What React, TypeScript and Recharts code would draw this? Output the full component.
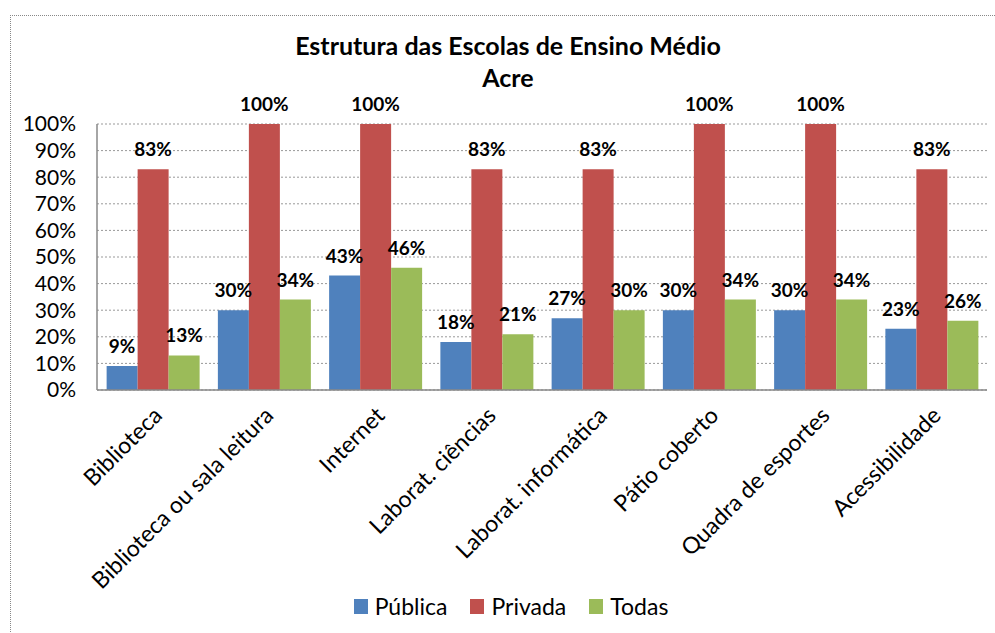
import React from 'react';
import { BarChart, Bar, XAxis, YAxis, CartesianGrid, Legend, LabelList } from 'recharts';

const categories = [
  'Biblioteca',
  'Biblioteca ou sala leitura',
  'Internet',
  'Laborat. ciências',
  'Laborat. informática',
  'Pátio coberto',
  'Quadra de esportes',
  'Acessibilidade',
];
const publica = [9, 30, 43, 18, 27, 30, 30, 23];
const privada = [83, 100, 100, 83, 83, 100, 100, 83];
const todas = [13, 34, 46, 21, 30, 34, 34, 26];
const yTicks = [0, 10, 20, 30, 40, 50, 60, 70, 80, 90, 100];

const series = [
  { key: 'publica', name: 'Pública', color: '#4F81BD' },
  { key: 'privada', name: 'Privada', color: '#C0504D' },
  { key: 'todas', name: 'Todas', color: '#9BBB59' },
];

const data = categories.map((c, i) => ({
  name: c,
  publica: publica[i],
  privada: privada[i],
  todas: todas[i],
}));

const FONT = 'Lato, "Open Sans", sans-serif';

const XTick = (props: any) => {
  const { x, y, payload } = props;
  return (
    <g transform={`translate(${x + 11},${y + 27})`}>
      <text transform="rotate(-45)" textAnchor="end" fontSize={23} fill="#000" fontFamily={FONT}>
        {payload.value}
      </text>
    </g>
  );
};

const LegendContent = () => (
  <div
    style={{
      display: 'flex',
      justifyContent: 'center',
      alignItems: 'center',
      fontFamily: FONT,
      fontSize: 23,
      color: '#000',
      paddingLeft: 50,
    }}
  >
    {series.map((s) => (
      <div key={s.key} style={{ display: 'flex', alignItems: 'center', marginRight: 23 }}>
        <span style={{ display: 'inline-block', width: 14, height: 15, background: s.color, marginRight: 7 }} />
        <span>{s.name}</span>
      </div>
    ))}
  </div>
);

export default function App() {
  return (
    <div style={{ position: 'fixed', left: 0, top: 0, width: 995, height: 633, background: '#fff', overflow: 'hidden' }}>
      <div
        style={{
          position: 'absolute',
          left: 10,
          top: 15,
          width: 1200,
          height: 900,
          borderTop: '1px dotted #888',
          borderLeft: '1px dotted #888',
        }}
      />
      <div
        style={{
          position: 'absolute',
          left: 0,
          width: 1016,
          top: 29,
          textAlign: 'center',
          fontFamily: FONT,
          fontWeight: 700,
          fontSize: 25,
          lineHeight: '32px',
          color: '#000',
        }}
      >
        <div>Estrutura das Escolas de Ensino Médio</div>
        <div>Acre</div>
      </div>
      <div style={{ position: 'absolute', left: 0, top: 0 }}>
        <BarChart
          width={995}
          height={633}
          data={data}
          margin={{ top: 124, right: 8, left: 10, bottom: 0 }}
          barCategoryGap="8.65%"
          barGap={0}
        >
          <CartesianGrid vertical={false} stroke="#999" strokeDasharray="2 2" />
          <XAxis
            dataKey="name"
            interval={0}
            height={243}
            tickSize={0}
            tickMargin={0}
            tick={<XTick />}
            axisLine={{ stroke: '#888', strokeWidth: 1.5 }}
            tickLine={false}
          />
          <YAxis
            width={87}
            domain={[0, 100]}
            ticks={yTicks}
            interval={0}
            tickFormatter={(v: number) => `${v}%`}
            tick={{ fontSize: 21, fill: '#000', fontFamily: FONT }}
            axisLine={{ stroke: '#888', strokeWidth: 1.5 }}
            tickLine={false}
            tickMargin={21}
            tickSize={0}
          />
          <Legend
            layout="horizontal"
            verticalAlign="middle"
            align="center"
            content={<LegendContent />}
            wrapperStyle={{ top: 592, left: 0, width: 995 }}
          />
          {series.map((s) => (
            <Bar key={s.key} dataKey={s.key} name={s.name} fill={s.color} isAnimationActive={false}>
              <LabelList
                dataKey={s.key}
                position="top"
                offset={13}
                formatter={(v: any) => `${v}%`}
                style={{ fontSize: 19, fontWeight: 700, fill: '#000', fontFamily: FONT }}
              />
            </Bar>
          ))}
        </BarChart>
      </div>
    </div>
  );
}
